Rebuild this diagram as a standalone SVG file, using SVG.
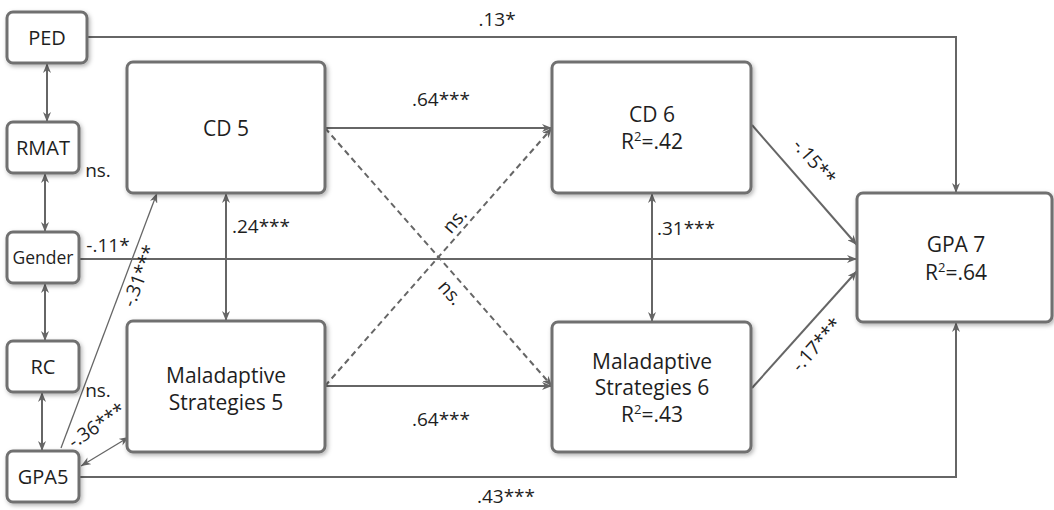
<svg xmlns="http://www.w3.org/2000/svg" width="1054" height="510" viewBox="0 0 1054 510">
<style>
.box{fill:#fff;stroke:#707070;stroke-width:3;filter:url(#sh)}
.t{font-family:"Open Sans","Liberation Sans",sans-serif;fill:#1e1e1e;text-anchor:middle}
.nt{font-size:21px}
.lt{font-size:20px}
.lb{font-family:"Open Sans","Liberation Sans",sans-serif;fill:#1e1e1e;font-size:19px;text-anchor:middle}
.ln{fill:none;stroke:#666;stroke-width:2}
.thin{fill:none;stroke:#666;stroke-width:1.3}
.ds{fill:none;stroke:#666;stroke-width:2;stroke-dasharray:6 4}
</style>
<defs>
<filter id="sh" x="-10%" y="-10%" width="125%" height="130%">
<feDropShadow dx="1.5" dy="2" stdDeviation="2" flood-color="#000" flood-opacity="0.3"/>
</filter>
<marker id="ar" viewBox="0 0 10 8" refX="10" refY="4" markerWidth="10" markerHeight="8" markerUnits="userSpaceOnUse" orient="auto-start-reverse">
<path d="M0,0 L10,4 L0,8 L3,4 z" fill="#666"/>
</marker>
</defs>

<g id="connectors">
<path class="ln" d="M87,37 H956 V193" marker-end="url(#ar)"/>
<path class="ln" d="M79,477 H956 V322" marker-end="url(#ar)"/>
<path class="ln" d="M79,259 H857" marker-end="url(#ar)"/>
<path class="ln" d="M325,128 H552" marker-end="url(#ar)"/>
<path class="ln" d="M325,386 H552" marker-end="url(#ar)"/>
<path class="ln" d="M226,193 V321" marker-start="url(#ar)" marker-end="url(#ar)"/>
<path class="ln" d="M652,193 V322" marker-start="url(#ar)" marker-end="url(#ar)"/>
<path class="ds" d="M325,128 L552,386" marker-end="url(#ar)"/>
<path class="ds" d="M325,386 L552,128" marker-end="url(#ar)"/>
<path class="ln" d="M752,125 L857,245" marker-end="url(#ar)"/>
<path class="ln" d="M752,388 L857,271" marker-end="url(#ar)"/>
<path class="thin" d="M61,448 L157,193" marker-end="url(#ar)"/>
<path class="thin" d="M129,437 L81,466" marker-start="url(#ar)" marker-end="url(#ar)"/>
<path class="ln" d="M47,63 V122" marker-start="url(#ar)" marker-end="url(#ar)"/>
<path class="ln" d="M45,173 V232" marker-start="url(#ar)" marker-end="url(#ar)"/>
<path class="ln" d="M45,283 V341" marker-start="url(#ar)" marker-end="url(#ar)"/>
<path class="ln" d="M42,392 V451" marker-start="url(#ar)" marker-end="url(#ar)"/>

<text class="lb" x="497" y="26">.13*</text>
<text class="lb" x="506" y="503">.43***</text>
<text class="lb" x="108" y="252">-.11*</text>
<text class="lb" x="441" y="106">.64***</text>
<text class="lb" x="441" y="426">.64***</text>
<text class="lb" x="261" y="233">.24***</text>
<text class="lb" x="686" y="235">.31***</text>
<text class="lb" x="98" y="177">ns.</text>
<text class="lb" x="98" y="397">ns.</text>
<text class="lb" transform="translate(455,221) rotate(-49)" y="6">ns.</text>
<text class="lb" transform="translate(450,293) rotate(49)" y="6">ns.</text>
<text class="lb" transform="translate(814,162) rotate(49)" y="6">-.15**</text>
<text class="lb" transform="translate(817,345) rotate(-48)" y="6">-.17***</text>
<text class="lb" transform="translate(140,276) rotate(-69)" y="6">-.31***</text>
<text class="lb" transform="translate(97,426) rotate(-34)" y="6">-.36***</text>
</g>

<g id="PED"><rect class="box" x="7" y="12" width="80" height="51" rx="6"/><text class="t lt" x="47" y="45">PED</text></g>
<g id="RMAT"><rect class="box" x="7" y="122" width="72" height="51" rx="6"/><text class="t lt" x="43" y="155">RMAT</text></g>
<g id="Gender"><rect class="box" x="7" y="232" width="72" height="51" rx="6"/><text class="t" style="font-size:17.5px" x="43" y="264">Gender</text></g>
<g id="RC"><rect class="box" x="7" y="341" width="72" height="51" rx="6"/><text class="t lt" x="43" y="374">RC</text></g>
<g id="GPA5"><rect class="box" x="7" y="451" width="72" height="51" rx="6"/><text class="t lt" x="43" y="484">GPA5</text></g>

<g id="CD5"><rect class="box" x="127" y="62" width="198" height="131" rx="6"/><text class="t nt" x="226" y="136">CD 5</text></g>
<g id="MS5"><rect class="box" x="127" y="321" width="198" height="131" rx="6"/><text class="t nt" x="226" y="383">Maladaptive</text><text class="t nt" x="226" y="410">Strategies 5</text></g>
<g id="CD6"><rect class="box" x="552" y="62" width="199" height="131" rx="6"/><text class="t nt" x="652" y="122">CD 6</text><text class="t nt" x="652" y="149">R<tspan font-size="13" dy="-8">2</tspan><tspan dy="8">=.42</tspan></text></g>
<g id="MS6"><rect class="box" x="552" y="322" width="199" height="130" rx="6"/><text class="t nt" x="652" y="369">Maladaptive</text><text class="t nt" x="652" y="395">Strategies 6</text><text class="t nt" x="652" y="422">R<tspan font-size="13" dy="-8">2</tspan><tspan dy="8">=.43</tspan></text></g>
<g id="GPA7"><rect class="box" x="857" y="193" width="195" height="129" rx="6"/><text class="t nt" x="956" y="252">GPA 7</text><text class="t nt" x="956" y="280">R<tspan font-size="13" dy="-8">2</tspan><tspan dy="8">=.64</tspan></text></g>
</svg>
